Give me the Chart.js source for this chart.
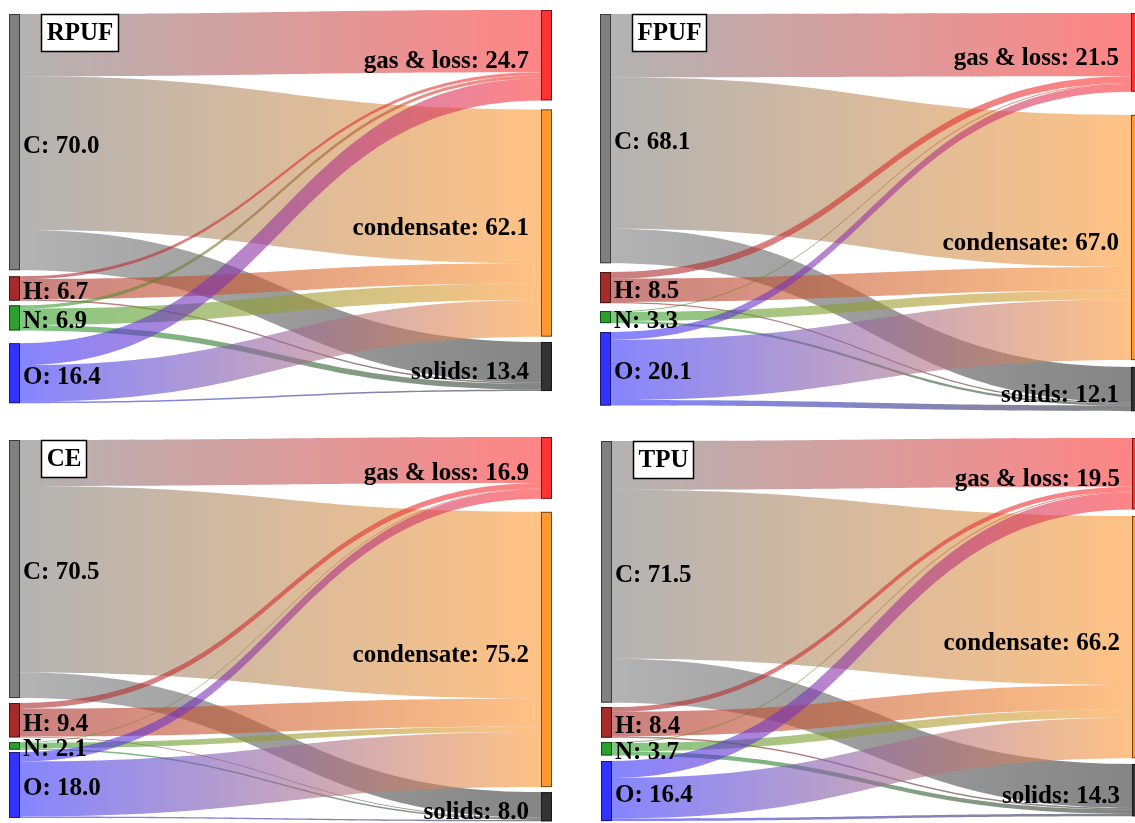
<!DOCTYPE html>
<html>
<head>
<meta charset="utf-8">
<script src="https://cdn.jsdelivr.net/npm/chart.js@4.4.1/dist/chart.umd.min.js"></script>
<style>
  html, body { margin: 0; padding: 0; background: #fff; overflow: hidden; width: 1135px; height: 823px; }
  canvas.panel { position: absolute; }
</style>
</head>
<body>
<canvas id="rpuf" class="panel" width="543" height="403" style="left:9px;top:9px"></canvas>
<canvas id="fpuf" class="panel" width="542" height="406" style="left:600px;top:9px"></canvas>
<canvas id="ce"   class="panel" width="543" height="400" style="left:9px;top:433px"></canvas>
<canvas id="tpu"  class="panel" width="542" height="400" style="left:601px;top:433px"></canvas>
<script>
// Element distribution (wt.%) of each foam/polymer feed into pyrolysis products
const elements = ['C', 'H', 'N', 'O'];
const products = ['gas & loss', 'condensate', 'solids'];

// RPUF
const rpufElements = [70.0, 6.7, 6.9, 16.4];
const rpufProducts = [24.7, 62.1, 13.4];
const rpufFlows = [
  [17.0, 42.0, 11.0],
  [0.8, 5.5, 0.4],
  [0.9, 4.5, 1.5],
  [6.0, 10.0, 0.4]
];

// FPUF
const fpufElements = [68.1, 8.5, 3.3, 20.1];
const fpufProducts = [21.5, 67.0, 12.1];
const fpufFlows = [
  [17.3, 41.4, 9.4],
  [1.8, 6.4, 0.3],
  [0.3, 2.4, 0.6],
  [2.1, 16.5, 1.5]
];

// CE
const ceElements = [70.5, 9.4, 2.1, 18.0];
const ceProducts = [16.9, 75.2, 8.0];
const ceFlows = [
  [12.6, 50.9, 7.0],
  [1.5, 7.7, 0.2],
  [0.2, 1.5, 0.4],
  [2.6, 15.0, 0.4]
];

// TPU
const tpuElements = [71.5, 8.4, 3.7, 16.4];
const tpuProducts = [19.5, 66.2, 14.3];
const tpuFlows = [
  [13.3, 46.2, 12.0],
  [1.3, 6.7, 0.4],
  [0.3, 2.2, 1.2],
  [4.6, 11.1, 0.7]
];

// colours (rgb triplets)
const elementColors = ['128,128,128', '165,42,42', '44,160,44', '51,51,255'];
const productColors = ['255,51,51', '255,153,51', '51,51,51'];

// layout: spacing of the node stacks, in value units
const PX_PER_UNIT = 3.66;
const NODE_WIDTH = 11;
const LINK_ALPHA = 0.6;
const FONT = 'bold 25px "Liberation Serif", "Times New Roman", serif';

const panels = [
  { id: 'rpuf', name: 'RPUF', left: rpufElements, right: rpufProducts, flows: rpufFlows,
    layout: { leftStart: 1.37, leftGaps: [1.64, 1.23, 3.47], rightStart: 0.27, rightGaps: [2.46, 1.45] } },
  { id: 'fpuf', name: 'FPUF', left: fpufElements, right: fpufProducts, flows: fpufFlows,
    layout: { leftStart: 1.37, leftGaps: [2.40, 2.16, 2.43], rightStart: 1.09, rightGaps: [6.34, 1.86] } },
  { id: 'ce', name: 'CE', left: ceElements, right: ceProducts, flows: ceFlows,
    layout: { leftStart: 1.91, leftGaps: [1.37, 1.26, 0.63], rightStart: 1.09, rightGaps: [3.55, 1.37] } },
  { id: 'tpu', name: 'TPU', left: tpuElements, right: tpuProducts, flows: tpuFlows,
    layout: { leftStart: 2.19, leftGaps: [1.17, 1.17, 1.50], rightStart: 1.37, rightGaps: [1.80, 1.56] } }
];

function stack(values, start, gaps) {
  let y = start;
  return values.map((v, i) => {
    const top = y;
    y += v + (gaps[i] || 0);
    return { top: top, bottom: top + v };
  });
}

const sankeyPlugin = {
  id: 'elementSankey',
  afterDraw(chart, args, opts) {
    const ctx = chart.ctx;
    const xs = chart.scales.x, ys = chart.scales.y;
    const p = opts.panel;
    const lay = p.layout;

    const xL0 = xs.getPixelForValue(0), xL1 = xL0 + NODE_WIDTH;
    const xR1 = xs.getPixelForValue(1), xR0 = xR1 - NODE_WIDTH;
    const xm = (xL1 + xR0) / 2;

    const L = stack(p.left, lay.leftStart, lay.leftGaps);
    const R = stack(p.right, lay.rightStart, lay.rightGaps);

    const rowSum = p.flows.map(r => r.reduce((a, b) => a + b, 0));
    const colSum = p.right.map((_, j) => p.flows.reduce((a, r) => a + r[j], 0));

    const lOff = L.map(n => n.top);
    const rOff = R.map(n => n.top);

    ctx.save();
    // links: ordered by target within each source, by source within each target
    p.flows.forEach((row, i) => {
      row.forEach((f, j) => {
        const hl = f * p.left[i] / rowSum[i];
        const hr = f * p.right[j] / colSum[j];
        const yl0 = ys.getPixelForValue(lOff[i]);
        const yl1 = ys.getPixelForValue(lOff[i] + hl);
        const yr0 = ys.getPixelForValue(rOff[j]);
        const yr1 = ys.getPixelForValue(rOff[j] + hr);
        lOff[i] += hl;
        rOff[j] += hr;

        ctx.beginPath();
        ctx.moveTo(xL1, yl0);
        ctx.bezierCurveTo(xm, yl0, xm, yr0, xR0, yr0);
        ctx.lineTo(xR0, yr1);
        ctx.bezierCurveTo(xm, yr1, xm, yl1, xL1, yl1);
        ctx.closePath();
        const g = ctx.createLinearGradient(xL1, 0, xR0, 0);
        g.addColorStop(0, 'rgba(' + elementColors[i] + ',' + LINK_ALPHA + ')');
        g.addColorStop(1, 'rgba(' + productColors[j] + ',' + LINK_ALPHA + ')');
        ctx.fillStyle = g;
        ctx.fill();
      });
    });

    // nodes
    ctx.lineWidth = 1;
    ctx.strokeStyle = 'rgba(0,0,0,0.55)';
    L.forEach((n, i) => {
      const y0 = ys.getPixelForValue(n.top), y1 = ys.getPixelForValue(n.bottom);
      ctx.fillStyle = 'rgb(' + elementColors[i] + ')';
      ctx.fillRect(xL0, y0, NODE_WIDTH, y1 - y0);
      ctx.strokeRect(xL0 + 0.5, y0 + 0.5, NODE_WIDTH - 1, y1 - y0 - 1);
    });
    R.forEach((n, j) => {
      const y0 = ys.getPixelForValue(n.top), y1 = ys.getPixelForValue(n.bottom);
      ctx.fillStyle = 'rgb(' + productColors[j] + ')';
      ctx.fillRect(xR0, y0, NODE_WIDTH, y1 - y0);
      ctx.strokeRect(xR0 + 0.5, y0 + 0.5, NODE_WIDTH - 1, y1 - y0 - 1);
    });

    // node labels
    ctx.font = FONT;
    ctx.fillStyle = '#000';
    ctx.textBaseline = 'middle';
    ctx.textAlign = 'left';
    L.forEach((n, i) => {
      const yc = (ys.getPixelForValue(n.top) + ys.getPixelForValue(n.bottom)) / 2 + 4;
      ctx.fillText(elements[i] + ': ' + p.left[i].toFixed(1), xL1 + 3, yc);
    });
    ctx.textAlign = 'right';
    R.forEach((n, j) => {
      const yc = (ys.getPixelForValue(n.top) + ys.getPixelForValue(n.bottom)) / 2 + 6;
      ctx.fillText(products[j] + ': ' + p.right[j].toFixed(1), xR0 - 12, yc);
    });

    // sample name box
    const tw = ctx.measureText(p.name).width;
    const bx = Math.round(xL0 + 32) + 0.5;
    const by = Math.round(ys.getPixelForValue(lay.leftStart)) + 0.5;
    const bw = Math.round(tw + 10), bh = 37;
    ctx.fillStyle = '#fff';
    ctx.fillRect(bx, by, bw, bh);
    ctx.lineWidth = 1.5;
    ctx.strokeStyle = '#000';
    ctx.strokeRect(bx, by, bw, bh);
    ctx.fillStyle = '#000';
    ctx.textAlign = 'center';
    ctx.fillText(p.name, bx + bw / 2, by + bh / 2 + 1);
    ctx.restore();
  }
};

panels.forEach(p => {
  const canvas = document.getElementById(p.id);
  new Chart(canvas, {
    type: 'scatter',
    data: { datasets: [] },
    options: {
      responsive: false,
      animation: false,
      events: [],
      layout: { padding: 0 },
      scales: {
        x: { type: 'linear', min: 0, max: 1, display: false },
        y: { type: 'linear', min: 0, max: canvas.height / PX_PER_UNIT, reverse: true, display: false }
      },
      plugins: {
        legend: { display: false },
        tooltip: { enabled: false },
        elementSankey: { panel: p }
      }
    },
    plugins: [sankeyPlugin]
  });
});
</script>
</body>
</html>
